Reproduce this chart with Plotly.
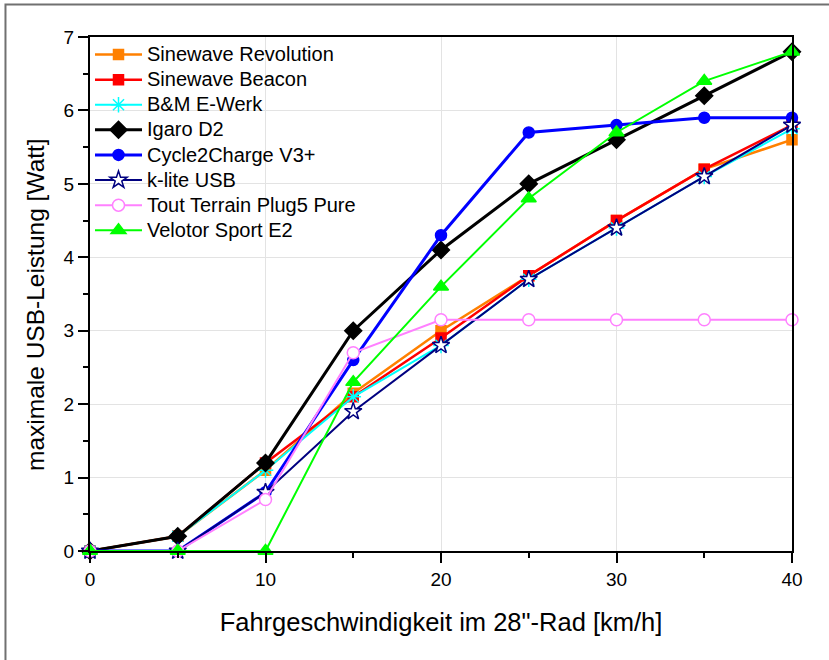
import plotly.graph_objects as go

speed = [0, 5, 10, 15, 20, 25, 30, 35, 40]

names = ["Sinewave Revolution", "Sinewave Beacon", "B&M E-Werk", "Igaro D2",
         "Cycle2Charge V3+", "k-lite USB", "Tout Terrain Plug5 Pure", "Velotor Sport E2"]

sinewave_revolution = [0, 0.2, 1.1, 2.15, 3.0, 3.75, 4.5, 5.2, 5.6]
sinewave_beacon     = [0, 0.2, 1.2, 2.1, 2.9, 3.75, 4.5, 5.2, 5.8]
bm_ewerk            = [0, 0.2, 1.1, 2.1, 2.8, 3.7, 4.4, 5.1, 5.75]
igaro_d2            = [0, 0.2, 1.2, 3.0, 4.1, 5.0, 5.6, 6.2, 6.8]
cycle2charge        = [0, 0, 0.8, 2.6, 4.3, 5.7, 5.8, 5.9, 5.9]
klite_usb           = [0, 0, 0.8, 1.9, 2.8, 3.7, 4.4, 5.1, 5.8]
tout_terrain        = [0, 0, 0.7, 2.7, 3.15, 3.15, 3.15, 3.15, 3.15]
velotor_sport       = [0, 0, 0, 2.3, 3.6, 4.8, 5.7, 6.4, 6.8]

series = [sinewave_revolution, sinewave_beacon, bm_ewerk, igaro_d2,
          cycle2charge, klite_usb, tout_terrain, velotor_sport]

styles = [
    dict(color="#FF8000", symbol="square", fill="#FF8000", size=10, lw=2.5),
    dict(color="#FF0000", symbol="square", fill="#FF0000", size=10, lw=2.5),
    dict(color="#00FFFF", symbol="asterisk-open", fill="#00FFFF", size=13, lw=2),
    dict(color="#000000", symbol="diamond", fill="#000000", size=13, lw=3),
    dict(color="#0000FF", symbol="circle", fill="#0000FF", size=11, lw=3),
    dict(color="#000080", symbol="star", fill="#FFFFFF", size=13, lw=2),
    dict(color="#FF80FF", symbol="circle", fill="#FFFFFF", size=12, lw=2),
    dict(color="#00FF00", symbol="triangle-up", fill="#00FF00", size=13, lw=2),
]

FONT = "Liberation Sans, Arial"

fig = go.Figure()
for name, ys, st in zip(names, series, styles):
    fig.add_trace(go.Scatter(
        x=speed, y=ys, mode="lines+markers",
        name='<span style="font-size:20px">' + name.replace("&", "&amp;") + "</span>",
        line=dict(color=st["color"], width=st["lw"]),
        marker=dict(symbol=st["symbol"], size=st["size"], color=st["fill"],
                    line=dict(color=st["color"], width=1.5)),
        cliponaxis=False,
    ))

axis_common = dict(
    showline=True, linecolor="black", linewidth=2, mirror=True,
    ticks="outside", ticklen=10, tickwidth=1.5, tickcolor="black",
    showgrid=True, gridcolor="#e3e3e3", gridwidth=1, zeroline=False,
    tickfont=dict(family=FONT, size=19, color="black"),
)

fig.update_xaxes(range=[0, 40], dtick=10, tick0=0,
                 minor=dict(ticks="outside", ticklen=5, dtick=5, tickcolor="black", showgrid=False),
                 title=dict(text="Fahrgeschwindigkeit im 28\"-Rad [km/h]", standoff=24,
                            font=dict(family=FONT, size=25.5, color="black")),
                 **axis_common)
fig.update_yaxes(range=[0, 7], dtick=1, tick0=0,
                 minor=dict(ticks="outside", ticklen=5, dtick=0.5, tickcolor="black", showgrid=False),
                 **axis_common)

fig.add_annotation(text="maximale USB-Leistung [Watt]", textangle=-90,
                   xref="paper", yref="paper", x=(36 - 90) / 702, y=(551 - 305) / 514,
                   xanchor="center", yanchor="middle", showarrow=False,
                   font=dict(family=FONT, size=24.5, color="black"))

fig.add_shape(type="rect", xref="paper", yref="paper",
              x0=-0.1204, y0=-0.3, x1=1.08, y1=1.0632,
              line=dict(color="#707070", width=2), layer="below")

fig.update_layout(
    width=829, height=660,
    margin=dict(l=90, r=37, t=37, b=109),
    plot_bgcolor="white", paper_bgcolor="white",
    showlegend=True,
    legend=dict(x=0.0, y=1.0, xanchor="left", yanchor="top",
                bgcolor="rgba(255,255,255,0)", borderwidth=0,
                font=dict(family=FONT, size=17, color="black"),
                itemwidth=47, tracegroupgap=0),
)

fig.write_html("out.html", config={"displayModeBar": False},
               post_script="document.body.style.margin='0px';")
